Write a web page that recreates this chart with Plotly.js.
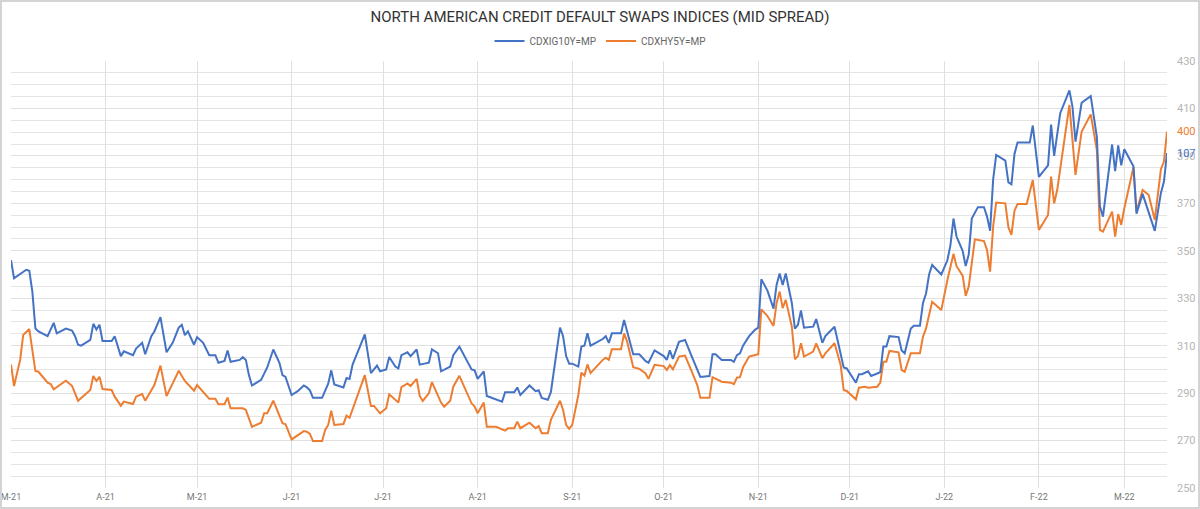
<!DOCTYPE html>
<html>
<head>
<meta charset="utf-8">
<script src="https://cdn.plot.ly/plotly-3.0.1.min.js"></script>
<style>
  body { margin: 0; background: #fff; }
  #cds_plot { width: 1196px; height: 505px; border: 2px solid #d4d4d4; }
</style>
</head>
<body>
<div id="cds_plot"></div>
<script>
// CDX IG 10Y (hidden left scale) and CDX HY 5Y (right scale), mid spreads
var igDates = ['2021-03-01','2021-03-02','2021-03-06','2021-03-07','2021-03-08','2021-03-09','2021-03-10','2021-03-13','2021-03-15','2021-03-16',
  '2021-03-19','2021-03-21','2021-03-22','2021-03-23','2021-03-24','2021-03-27','2021-03-28','2021-03-29','2021-03-30','2021-03-31',
  '2021-04-03','2021-04-04','2021-04-06','2021-04-07','2021-04-10','2021-04-11','2021-04-13','2021-04-14','2021-04-16','2021-04-17',
  '2021-04-19','2021-04-21','2021-04-23','2021-04-25','2021-04-26','2021-04-27','2021-04-28','2021-04-30','2021-05-01','2021-05-03',
  '2021-05-05','2021-05-07','2021-05-08','2021-05-10','2021-05-11','2021-05-12','2021-05-15','2021-05-16','2021-05-17','2021-05-18',
  '2021-05-19','2021-05-22','2021-05-24','2021-05-26','2021-05-28','2021-05-29','2021-05-30','2021-06-01','2021-06-03','2021-06-05',
  '2021-06-06','2021-06-07','2021-06-08','2021-06-11','2021-06-13','2021-06-14','2021-06-15','2021-06-18','2021-06-19','2021-06-20',
  '2021-06-21','2021-06-25','2021-06-27','2021-06-29','2021-06-30','2021-07-02','2021-07-03','2021-07-05','2021-07-06','2021-07-07',
  '2021-07-09','2021-07-10','2021-07-12','2021-07-13','2021-07-16','2021-07-17','2021-07-19','2021-07-20','2021-07-23','2021-07-24',
  '2021-07-26','2021-07-28','2021-07-30','2021-07-31','2021-08-01','2021-08-03','2021-08-04','2021-08-09','2021-08-10','2021-08-13',
  '2021-08-14','2021-08-15','2021-08-18','2021-08-20','2021-08-21','2021-08-22','2021-08-24','2021-08-25','2021-08-28','2021-08-29',
  '2021-08-30','2021-08-31','2021-09-01','2021-09-03','2021-09-04','2021-09-05','2021-09-06','2021-09-07','2021-09-11','2021-09-12',
  '2021-09-13','2021-09-14','2021-09-17','2021-09-18','2021-09-19','2021-09-21','2021-09-23','2021-09-25','2021-09-26','2021-09-28',
  '2021-10-01','2021-10-02','2021-10-03','2021-10-04','2021-10-06','2021-10-08','2021-10-10','2021-10-13','2021-10-16','2021-10-17',
  '2021-10-18','2021-10-20','2021-10-23','2021-10-24','2021-10-25','2021-10-26','2021-10-27','2021-10-29','2021-10-31','2021-11-01',
  '2021-11-02','2021-11-04','2021-11-06','2021-11-07','2021-11-08','2021-11-09','2021-11-10','2021-11-11','2021-11-12','2021-11-13',
  '2021-11-14','2021-11-15','2021-11-16','2021-11-19','2021-11-20','2021-11-22','2021-11-23','2021-11-26','2021-11-28','2021-11-29',
  '2021-11-30','2021-12-03','2021-12-04','2021-12-05','2021-12-07','2021-12-08','2021-12-11','2021-12-12','2021-12-13','2021-12-14',
  '2021-12-17','2021-12-18','2021-12-19','2021-12-21','2021-12-22','2021-12-24','2021-12-25','2021-12-26','2021-12-27','2021-12-28',
  '2021-12-31','2022-01-02','2022-01-03','2022-01-04','2022-01-05','2022-01-07','2022-01-08','2022-01-09','2022-01-10','2022-01-12',
  '2022-01-14','2022-01-15','2022-01-16','2022-01-17','2022-01-18','2022-01-21','2022-01-22','2022-01-23','2022-01-24','2022-01-25',
  '2022-01-29','2022-01-30','2022-02-01','2022-02-04','2022-02-05','2022-02-06','2022-02-08','2022-02-11','2022-02-12','2022-02-13',
  '2022-02-15','2022-02-18','2022-02-20','2022-02-21','2022-02-22','2022-02-25','2022-02-26','2022-02-27','2022-02-28','2022-03-01',
  '2022-03-04','2022-03-05','2022-03-07','2022-03-11','2022-03-13','2022-03-14','2022-03-15'];
var igVals = [96.0,94.1,95.0,94.9,92.7,88.8,88.5,88.0,89.4,88.3,
  88.8,88.6,88.0,87.1,87.0,87.6,89.3,88.7,89.2,87.5,
  87.5,88.0,85.9,86.4,86.0,86.7,87.3,86.1,88.0,88.5,
  90.0,86.3,87.3,88.9,89.2,88.1,88.5,87.1,87.9,87.3,
  86.0,86.0,85.2,85.4,86.5,85.3,85.5,85.8,85.5,83.9,
  82.8,83.4,84.7,86.6,85.2,83.9,83.7,81.8,82.2,82.8,
  82.6,82.3,81.5,81.5,83.0,84.4,82.9,82.6,83.6,83.5,
  85.0,88.2,84.1,84.9,84.3,84.5,85.8,84.8,84.6,86.0,
  86.3,85.9,86.6,85.0,85.2,86.6,86.2,84.3,84.8,86.0,
  86.9,85.7,84.5,84.4,83.5,84.3,81.7,81.1,82.1,82.1,
  82.6,81.8,82.8,82.2,82.3,81.5,81.3,82.1,88.9,88.0,
  85.9,85.1,85.1,84.8,86.9,87.0,88.3,87.0,87.7,88.0,
  87.3,88.3,88.3,89.7,88.5,86.1,86.1,85.4,85.2,86.5,
  85.9,85.5,86.5,85.6,87.4,87.6,86.0,83.7,83.8,86.1,
  86.1,85.5,85.5,85.3,86.0,86.2,87.0,88.0,88.7,88.9,
  94.0,92.8,90.9,93.4,94.6,93.4,94.6,92.9,91.5,88.8,
  89.2,90.7,88.9,89.0,89.8,87.3,88.0,89.0,86.2,84.7,
  84.6,83.1,84.0,84.0,84.3,83.8,84.2,86.9,86.9,88.0,
  87.9,86.5,86.2,88.8,89.1,89.1,91.5,92.5,94.5,95.5,
  94.5,96.0,97.6,100.4,98.5,97.0,95.4,96.6,100.4,101.6,
  101.6,100.6,99.1,104.5,107.1,106.5,104.2,104.0,107.2,108.4,
  108.4,110.2,104.8,106.0,110.3,107.0,111.5,113.9,112.2,108.5,
  112.6,113.3,109.0,101.7,100.6,108.2,105.4,108.1,106.0,107.7,
  105.9,100.9,103.0,99.1,103.1,104.3,107.3];

var hyDates = ['2021-03-01','2021-03-02','2021-03-04','2021-03-05','2021-03-07','2021-03-09','2021-03-10','2021-03-13','2021-03-14','2021-03-15',
  '2021-03-17','2021-03-19','2021-03-21','2021-03-23','2021-03-27','2021-03-28','2021-03-29','2021-03-30','2021-03-31','2021-04-03',
  '2021-04-04','2021-04-06','2021-04-07','2021-04-10','2021-04-11','2021-04-13','2021-04-14','2021-04-17','2021-04-19','2021-04-21',
  '2021-04-23','2021-04-25','2021-04-27','2021-04-30','2021-05-01','2021-05-05','2021-05-07','2021-05-08','2021-05-10','2021-05-11',
  '2021-05-12','2021-05-16','2021-05-17','2021-05-19','2021-05-22','2021-05-23','2021-05-24','2021-05-26','2021-05-29','2021-05-30',
  '2021-06-01','2021-06-03','2021-06-05','2021-06-06','2021-06-07','2021-06-08','2021-06-11','2021-06-12','2021-06-13','2021-06-14',
  '2021-06-15','2021-06-18','2021-06-19','2021-06-20','2021-06-25','2021-06-27','2021-06-28','2021-06-30','2021-07-02','2021-07-03',
  '2021-07-06','2021-07-07','2021-07-09','2021-07-10','2021-07-12','2021-07-13','2021-07-14','2021-07-16','2021-07-17','2021-07-20',
  '2021-07-21','2021-07-23','2021-07-24','2021-07-26','2021-07-28','2021-07-30','2021-07-31','2021-08-01','2021-08-03','2021-08-04',
  '2021-08-07','2021-08-10','2021-08-11','2021-08-13','2021-08-14','2021-08-15','2021-08-18','2021-08-20','2021-08-21','2021-08-22',
  '2021-08-24','2021-08-25','2021-08-28','2021-08-29','2021-08-30','2021-08-31','2021-09-01','2021-09-03','2021-09-04','2021-09-05',
  '2021-09-06','2021-09-07','2021-09-11','2021-09-12','2021-09-13','2021-09-14','2021-09-17','2021-09-18','2021-09-19','2021-09-21',
  '2021-09-23','2021-09-25','2021-09-26','2021-09-28','2021-10-01','2021-10-02','2021-10-03','2021-10-04','2021-10-06','2021-10-08',
  '2021-10-10','2021-10-12','2021-10-13','2021-10-16','2021-10-17','2021-10-18','2021-10-20','2021-10-23','2021-10-24','2021-10-25',
  '2021-10-26','2021-10-27','2021-10-29','2021-10-31','2021-11-01','2021-11-02','2021-11-04','2021-11-06','2021-11-07','2021-11-08',
  '2021-11-09','2021-11-10','2021-11-12','2021-11-13','2021-11-14','2021-11-15','2021-11-16','2021-11-19','2021-11-20','2021-11-22',
  '2021-11-23','2021-11-26','2021-11-28','2021-11-29','2021-11-30','2021-12-03','2021-12-04','2021-12-06','2021-12-07','2021-12-10',
  '2021-12-11','2021-12-12','2021-12-13','2021-12-14','2021-12-17','2021-12-18','2021-12-19','2021-12-21','2021-12-24','2021-12-25',
  '2021-12-26','2021-12-27','2021-12-28','2021-12-31','2022-01-02','2022-01-04','2022-01-05','2022-01-07','2022-01-08','2022-01-09',
  '2022-01-11','2022-01-14','2022-01-15','2022-01-16','2022-01-17','2022-01-18','2022-01-21','2022-01-22','2022-01-23','2022-01-24',
  '2022-01-25','2022-01-28','2022-01-30','2022-02-01','2022-02-04','2022-02-05','2022-02-06','2022-02-07','2022-02-09','2022-02-11',
  '2022-02-13','2022-02-15','2022-02-18','2022-02-20','2022-02-21','2022-02-22','2022-02-25','2022-02-26','2022-02-27','2022-02-28',
  '2022-03-01','2022-03-04','2022-03-05','2022-03-07','2022-03-09','2022-03-11','2022-03-13','2022-03-14','2022-03-15'];
var hyVals = [302.1,293.0,304.0,314.5,317.0,299.3,299.0,294.4,293.8,291.6,
  293.4,295.2,293.1,286.8,291.3,297.2,295.1,296.9,291.7,291.3,
  288.5,284.7,286.4,285.4,288.5,289.6,286.8,293.4,301.6,288.8,
  294.1,299.4,295.1,291.0,293.4,287.6,287.6,285.3,285.3,288.1,
  283.6,283.6,282.9,275.8,277.5,281.5,281.5,286.8,277.3,276.9,
  270.5,272.3,274.0,273.7,272.8,269.8,269.8,274.5,276.6,282.6,
  276.6,277.0,280.5,279.6,297.6,284.6,284.6,281.5,283.6,289.5,
  286.0,292.5,294.1,293.0,296.0,288.8,286.7,289.9,294.6,286.0,
  284.3,286.8,292.7,297.3,291.3,285.7,284.3,281.5,286.0,275.8,
  275.8,274.2,275.2,275.2,278.0,275.2,277.5,275.2,276.1,273.1,
  273.1,278.7,286.8,282.9,276.6,274.9,276.6,289.2,298.6,297.4,
  302.1,298.4,304.0,304.9,304.0,308.5,308.5,315.2,311.7,300.9,
  300.2,298.4,296.0,301.9,301.4,299.7,301.8,300.0,305.4,305.8,
  299.7,293.4,288.0,288.0,296.7,296.0,294.8,294.4,293.8,296.5,
  296.7,300.9,305.4,306.1,306.4,325.3,322.5,318.3,327.9,332.8,
  325.8,329.3,318.0,304.3,305.6,311.0,305.4,307.5,311.0,304.7,
  306.8,311.0,301.9,291.3,290.9,287.4,292.3,292.7,292.3,292.7,
  294.4,303.2,303.2,307.8,307.2,299.7,299.0,306.8,306.8,313.8,
  317.3,322.9,328.5,325.0,337.7,348.7,343.5,339.5,331.0,334.9,
  354.8,354.1,350.3,341.2,360.2,370.3,370.0,359.9,356.7,366.9,
  369.7,369.7,379.8,358.8,365.1,381.3,370.0,375.6,393.9,411.5,
  382.0,400.2,407.5,392.5,358.8,358.1,366.5,356.0,365.5,360.9,
  367.9,385.2,366.5,375.6,373.5,363.0,384.4,387.6,400.2];

// month ticks along the bottom
var monthTicks = ['2021-03-01','2021-04-01','2021-05-01','2021-06-01','2021-07-01','2021-08-01','2021-09-01',
  '2021-10-01','2021-11-01','2021-12-01','2022-01-01','2022-02-01','2022-03-01'];
var monthLabels = ['M-21','A-21','M-21','J-21','J-21','A-21','S-21','O-21','N-21','D-21','J-22','F-22','M-22'];

var blue = '#4472C4';
var orange = '#ED7D31';

var trace1 = {
    x: igDates,
    y: igVals,
    name: 'CDXIG10Y=MP',
    type: 'scatter',
    mode: 'lines',
    yaxis: 'y2',
    line: { color: blue, width: 2 }
  };

var trace2 = {
    x: hyDates,
    y: hyVals,
    name: 'CDXHY5Y=MP',
    type: 'scatter',
    mode: 'lines',
    line: { color: orange, width: 2 }
  };

var data_plot = [trace1, trace2];

var layout = {
    width: 1196,
    height: 505,
    margin: { l: 9, r: 31, t: 59, b: 19 },
    paper_bgcolor: '#fff',
    plot_bgcolor: '#fff',
    font: { family: 'Roboto, "DejaVu Sans", sans-serif', color: '#777' },
    title: {
        text: 'NORTH AMERICAN CREDIT DEFAULT SWAPS INDICES (MID SPREAD)',
        font: { size: 15, color: '#333' },
        xref: 'container', x: 0.5, xanchor: 'center',
        yref: 'container', y: 0.970, yanchor: 'middle'
    },
    showlegend: true,
    legend: {
        orientation: 'h',
        xref: 'container', x: 0.5, xanchor: 'center',
        yref: 'container', y: 0.923, yanchor: 'middle',
        font: { size: 10, color: '#666' },
        itemwidth: 30,
        tracegroupgap: 0
    },
    xaxis: {
        type: 'date',
        range: ['2021-03-01', '2022-03-15'],
        tickmode: 'array',
        tickvals: monthTicks,
        ticktext: monthLabels,
        showgrid: true,
        gridcolor: '#e0e0e0',
        gridwidth: 1,
        zeroline: false,
        showline: false,
        ticks: '',
        ticklabelstandoff: 2,
        ticklabeloverflow: 'allow',
        tickfont: { size: 9, color: '#777' }
    },
    yaxis: {
        side: 'right',
        range: [250, 430],
        tick0: 250,
        dtick: 20,
        showgrid: true,
        gridcolor: '#e0e0e0',
        minor: { dtick: 5, showgrid: true, gridcolor: '#e4e4e4', gridwidth: 1 },
        zeroline: false,
        showline: false,
        ticks: '',
        ticklabelstandoff: 9,
        tickfont: { size: 11, color: '#b5b5b5' }
    },
    yaxis2: {
        overlaying: 'y',
        side: 'left',
        range: [72, 117],
        visible: false
    },
    annotations: [
        {
            x: hyDates[hyDates.length - 1], y: hyVals[hyVals.length - 1],
            xref: 'x', yref: 'y',
            text: hyVals[hyVals.length - 1].toFixed(0),
            showarrow: false, xanchor: 'left', xshift: 8,
            font: { size: 11, color: orange }
        },
        {
            x: igDates[igDates.length - 1], y: igVals[igVals.length - 1],
            xref: 'x', yref: 'y2',
            text: igVals[igVals.length - 1].toFixed(0),
            showarrow: false, xanchor: 'left', xshift: 8,
            font: { size: 11, color: blue }
        }
    ]
};

Plotly.newPlot('cds_plot', data_plot, layout, { displayModeBar: false, staticPlot: true });
</script>
</body>
</html>
